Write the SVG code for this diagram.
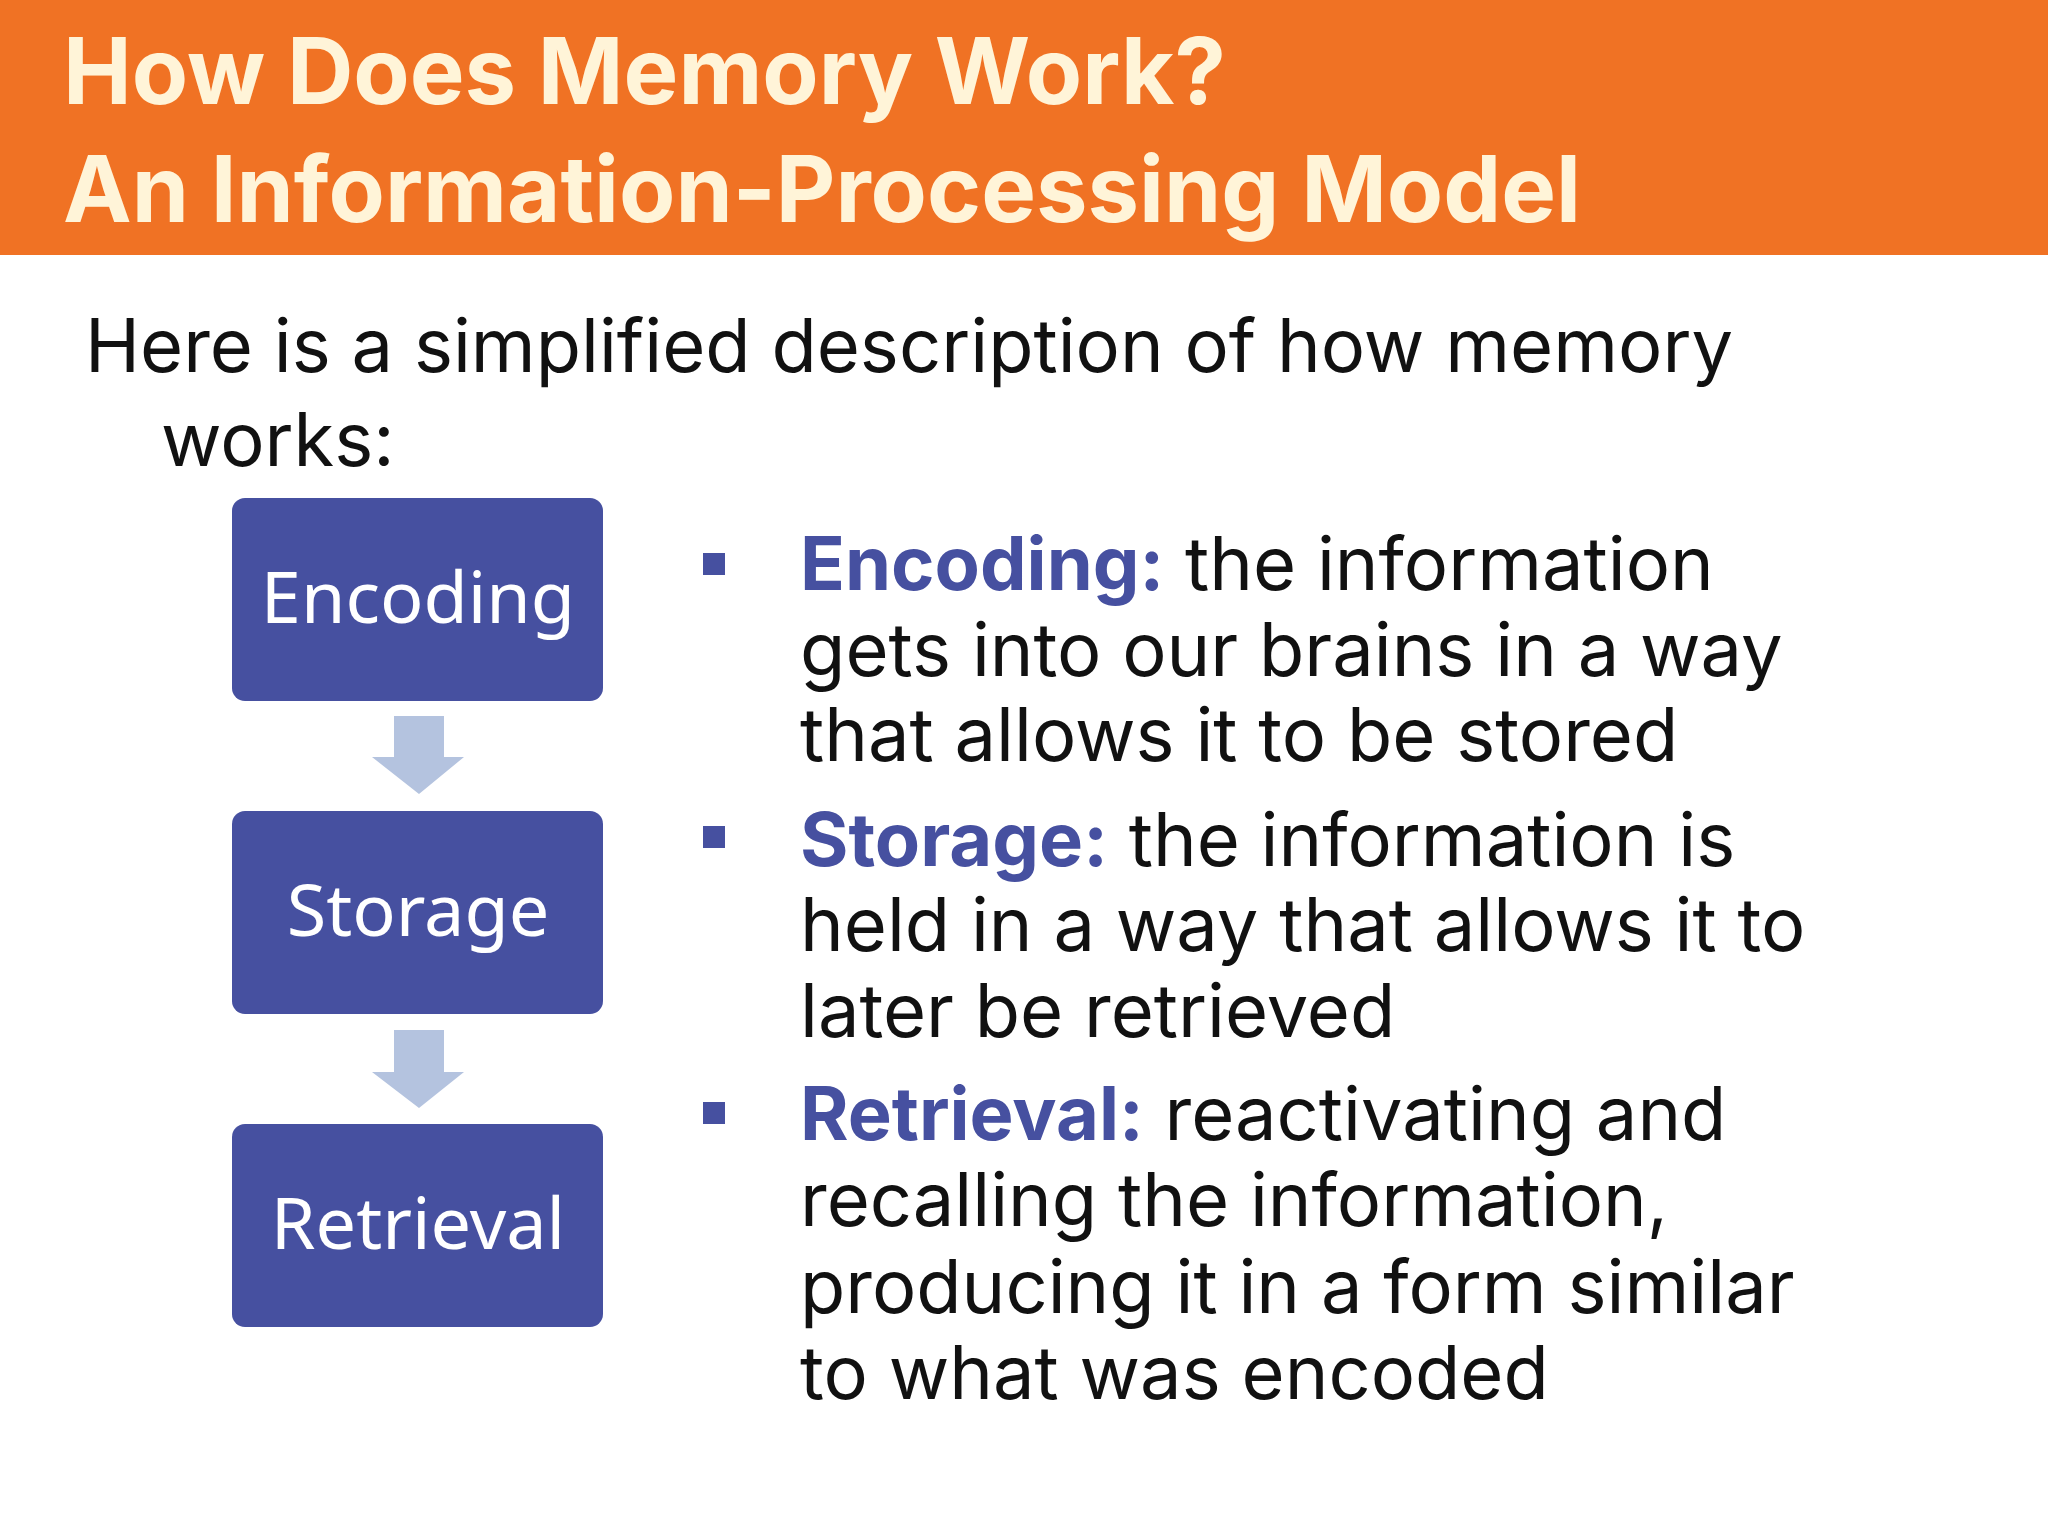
<svg xmlns="http://www.w3.org/2000/svg" width="2048" height="1536" viewBox="0 0 2048 1536">
<style>
.t{font-family:Inter,"Open Sans",sans-serif;font-weight:bold;font-size:92px;fill:#FFF4D8}
.b{font-family:Inter,"Open Sans",sans-serif;font-size:74px;fill:#111}
.k{font-weight:bold;fill:#4650A0}
.box{fill:#4650A0}
.bl{font-family:"Noto Sans","Open Sans",sans-serif;font-size:72px;fill:#fff;text-anchor:middle}
.ar{fill:#B4C3DF}
.sq{fill:#4650A0}
</style>
<rect width="2048" height="1536" fill="#fff"/>
<rect width="2048" height="255" fill="#F07224"/>
<text class="t" x="63" y="104">How Does Memory Work?</text>
<text class="t" x="63" y="222">An Information-Processing Model</text>
<text class="b" x="85" y="372">Here is a simplified description of how memory</text>
<text class="b" x="161" y="466">works:</text>
<g id="encoding"><rect class="box" x="232" y="498" width="371" height="203" rx="13"/><text class="bl" x="418" y="623">Encoding</text></g>
<g id="storage"><rect class="box" x="232" y="811" width="371" height="203" rx="13"/><text class="bl" x="418" y="936">Storage</text></g>
<g id="retrieval"><rect class="box" x="232" y="1124" width="371" height="203" rx="13"/><text class="bl" x="418" y="1249">Retrieval</text></g>
<g id="connectors">
<polygon class="ar" points="394,716 444,716 444,757 464,757 419,794 372,757 394,757"/>
<polygon class="ar" points="394,1030 444,1030 444,1072 464,1072 419,1108 372,1072 394,1072"/>
</g>
<g id="bullets">
<rect class="sq" x="703" y="553" width="22" height="22"/>
<rect class="sq" x="703" y="826" width="22" height="22"/>
<rect class="sq" x="703" y="1102" width="22" height="22"/>
<text class="b" x="800" y="590"><tspan class="k">Encoding:</tspan> the information</text>
<text class="b" x="800" y="676">gets into our brains in a way</text>
<text class="b" x="800" y="761">that allows it to be stored</text>
<text class="b" x="800" y="866"><tspan class="k">Storage:</tspan> the information is</text>
<text class="b" x="800" y="951">held in a way that allows it to</text>
<text class="b" x="800" y="1037">later be retrieved</text>
<text class="b" x="800" y="1140"><tspan class="k">Retrieval:</tspan> reactivating and</text>
<text class="b" x="800" y="1226">recalling the information,</text>
<text class="b" x="800" y="1313">producing it in a form similar</text>
<text class="b" x="800" y="1399">to what was encoded</text>
</g>
</svg>
